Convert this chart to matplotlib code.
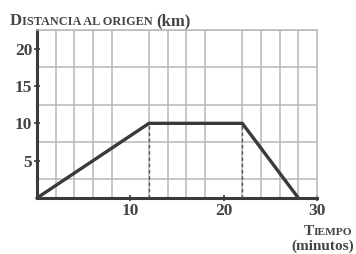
import matplotlib.pyplot as plt
import numpy as np

# datos
tiempo = [0, 12, 22, 28]
distancia = [0, 10, 10, 0]
marcas_t = [12, 22]          # lineas discontinuas
x_ticks = [10, 20, 30]
y_ticks = [5, 10, 15, 20]

color_linea = '#3a3a3a'
color_rejilla = '#b8b8b8'
color_texto = '#444444'
fuente = 'Liberation Serif'

fig = plt.figure(figsize=(3.56, 2.54), dpi=100)
ax = fig.add_axes([37/356, 1 - 198/254, 280/356, 168/254])

ax.set_xlim(0, 30)
ax.set_ylim(0, 22.5)

# rejilla
ax.set_xticks(np.arange(0, 31, 2), minor=True)
ax.set_yticks(np.arange(0, 22.6, 2.5), minor=True)
ax.grid(which='minor', color=color_rejilla, lw=1.1)
ax.tick_params(which='minor', length=0)

ax.set_xticks(x_ticks)
ax.set_yticks(y_ticks)
ax.tick_params(which='major', direction='inout', length=5, width=1.2,
               color=color_linea, labelsize=12.5, labelcolor=color_texto, pad=1)
for lab in ax.get_xticklabels() + ax.get_yticklabels():
    lab.set_fontfamily(fuente)
    lab.set_fontweight('bold')

for s in ['top', 'right']:
    ax.spines[s].set_color(color_rejilla)
    ax.spines[s].set_linewidth(1.1)
for s in ['left', 'bottom']:
    ax.spines[s].set_color(color_linea)
    ax.spines[s].set_linewidth(2.2)

ax.plot(tiempo, distancia, color=color_linea, lw=2.4, solid_capstyle='round',
        clip_on=False, zorder=5)
for t in marcas_t:
    ax.plot([t, t], [0, 10], color='#555', lw=1, ls=(0, (2.5, 2)), zorder=4)

# textos en versalitas
fig.canvas.draw()
r = fig.canvas.get_renderer()
W = fig.bbox.width


def versalitas(x0, y0, partes, alinear_derecha=False):
    textos = []
    x = x0
    for s, tam in partes:
        t = fig.text(x, y0, s, fontsize=tam, va='baseline', ha='left',
                     family=fuente, weight='bold', color=color_texto)
        bb = t.get_window_extent(r)
        x = bb.x1 / W
        textos.append(t)
    if alinear_derecha:
        ancho = x - x0
        for t in textos:
            px, py = t.get_position()
            t.set_position((px - ancho, py))
    return textos


versalitas(10/356, 1 - 25/254,
           [('D', 12), ('ISTANCIA AL ORIGEN ', 8.8), ('(km)', 12)])
versalitas(352/356, 1 - 235/254, [('T', 11), ('IEMPO', 8.2)], True)
fig.text(354/356, 1 - 250/254, '(minutos)', fontsize=11, va='baseline',
         ha='right', family=fuente, weight='bold', color=color_texto)

plt.savefig('out.png', dpi=100)
